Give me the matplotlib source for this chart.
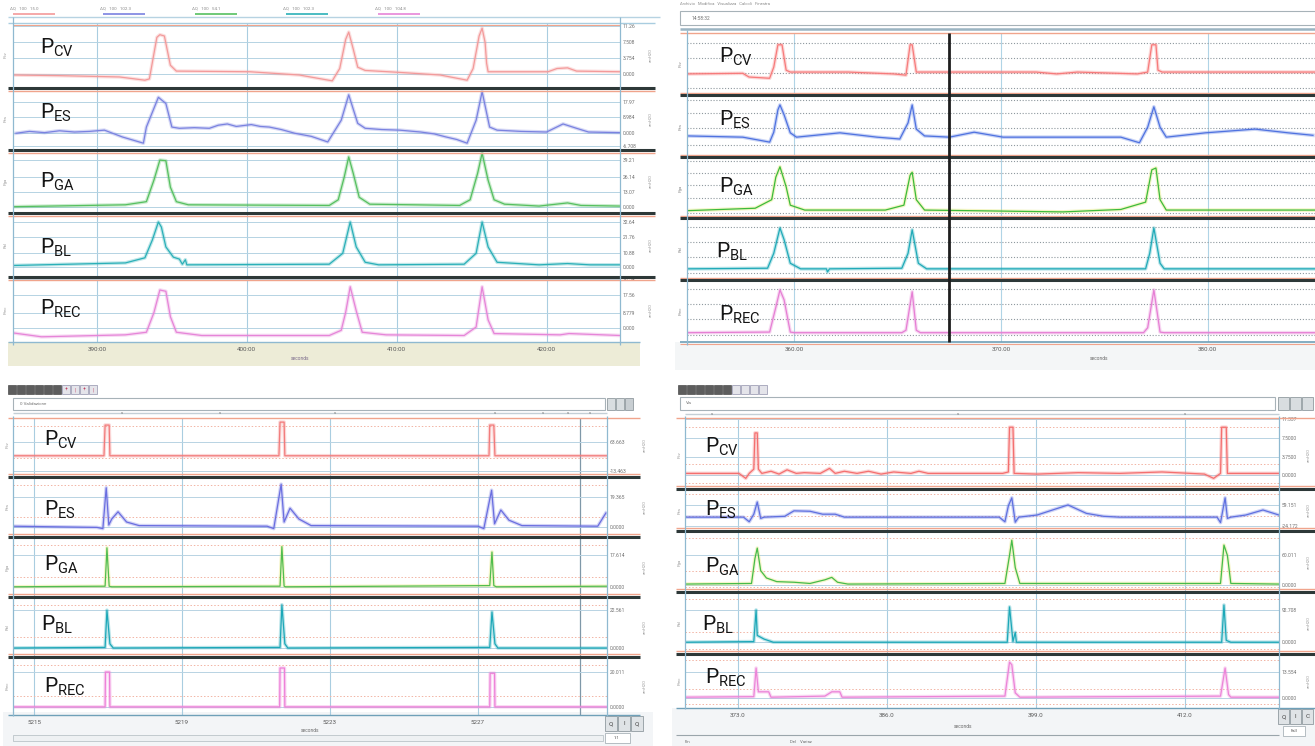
import matplotlib.pyplot as plt
from matplotlib.patches import Rectangle

plt.rcParams['font.family'] = ['Roboto', 'DejaVu Sans']
plt.rcParams['mathtext.fontset'] = 'custom'
plt.rcParams['mathtext.rm'] = 'Roboto'

W, H = 1315, 746
names = ['CV', 'ES', 'GA', 'BL', 'REC']

# ---------------- panel A (top left), time in s, pressures in % of row
a_ticks = [390, 400, 410, 420]
a_ticklabels = ['390:00', '400:00', '410:00', '420:00']
a_cv_t = [384.4, 387.5, 391.5, 393.2, 393.5, 394.0, 394.2, 394.5, 394.9, 395.3, 400.2, 403.5, 405.7, 406.2, 406.6,
          406.8, 407.1, 407.4, 407.9, 410.2, 412.9, 414.7, 415.1, 415.5, 415.7, 415.9, 416.0, 416.1, 420.1, 420.7,
          421.4, 422.0, 424.9]
a_cv_v = [20, 19, 17, 12, 14, 78, 82, 80, 35, 26, 25, 20, 11, 30, 75, 86, 60, 32, 27, 24, 20, 12, 30, 80, 92, 70,
          38, 25, 25, 30, 31, 26, 25]
a_es_t = [384.6, 385.5, 386.5, 387.5, 388.5, 389.5, 390.5, 391.7, 393.1, 393.3, 394.1, 394.6, 395.0, 395.5, 396.5,
          397.5, 398.1, 398.7, 399.3, 400.3, 400.9, 401.5, 402.3, 403.2, 404.3, 405.4, 406.3, 406.8, 407.4, 407.9,
          409.0, 410.2, 411.6, 412.5, 413.3, 414.0, 414.7, 415.3, 415.7, 416.2, 416.7, 418.3, 420.0, 421.1, 422.0,
          422.8, 424.9]
a_es_v = [27, 30, 28, 31, 29, 30, 32, 21, 11, 37, 85, 75, 37, 35, 36, 35, 40, 42, 38, 41, 38, 37, 33, 27, 22, 13,
          48, 89, 43, 35, 33, 32, 29, 26, 21, 17, 11, 48, 94, 37, 32, 30, 29, 42, 35, 29, 28]
a_ga_t = [384.4, 391.9, 393.3, 393.8, 394.2, 394.6, 394.9, 395.3, 396.1, 405.5, 406.1, 406.5, 406.8, 407.1, 407.5,
          408.2, 414.2, 414.9, 415.4, 415.7, 416.1, 416.5, 417.2, 419.5, 421.4, 422.3, 424.9]
a_ga_v = [10, 13, 18, 52, 84, 83, 41, 18, 13, 12, 21, 57, 89, 63, 25, 14, 12, 21, 63, 95, 52, 21, 14, 11, 16, 12, 11]
a_bl_t = [384.4, 391.9, 393.2, 393.7, 394.1, 394.3, 394.6, 395.1, 395.5, 395.7, 395.9, 396.0, 405.5, 406.4, 406.9,
          407.3, 407.9, 408.8, 414.5, 415.3, 415.7, 416.1, 416.7, 419.5, 421.4, 422.9, 424.9]
a_bl_v = [18, 22, 30, 58, 86, 78, 47, 31, 28, 20, 27, 19, 20, 37, 86, 47, 23, 19, 20, 37, 86, 47, 23, 19, 21, 19, 19]
a_rec_t = [384.4, 386.3, 391.9, 393.3, 393.8, 394.2, 394.6, 394.9, 395.3, 397.0, 405.5, 406.3, 406.6, 406.9, 407.3,
           407.7, 409.3, 414.5, 415.3, 415.7, 416.1, 416.5, 420.9, 421.5, 424.9]
a_rec_v = [14, 8, 11, 15, 45, 80, 78, 39, 15, 10, 10, 18, 46, 85, 48, 15, 11, 10, 23, 85, 34, 13, 11, 13, 10]
a_grid = [[21, 46, 71, 95], [6, 27, 53, 77], [10, 33, 57, 84], [16, 38, 63, 86], [22, 45, 72, 97]]
a_ylab = [['0.000', '3.754', '7.508', '11.26'], ['-6.708', '0.000', '8.984', '17.97'],
          ['0.000', '13.07', '26.14', '39.21'], ['0.000', '10.88', '21.76', '32.64'],
          ['0.000', '8.779', '17.56', '26.34']]

# ---------------- panel B (top right)
b_ticks = [360, 370, 380]
b_ticklabels = ['360.00', '370.00', '380.00']
b_cursor = 367.5
b_cv_t = [354.8, 357.5, 357.8, 358.8, 359.0, 359.2, 359.4, 359.6, 359.8, 362.6, 364.8, 365.4, 365.6, 365.7, 365.9,
          367.5, 371.7, 372.7, 373.7, 376.6, 377.1, 377.3, 377.5, 377.6, 377.8, 385.2]
b_cv_v = [34, 35, 29, 27, 45, 81, 81, 40, 37, 37, 34, 32, 81, 81, 37, 37, 37, 34, 37, 34, 37, 81, 81, 40, 37, 37]
b_es_t = [354.8, 357.5, 358.8, 359.0, 359.2, 359.3, 359.5, 359.8, 360.1, 362.2, 364.0, 365.1, 365.5, 365.7, 365.9,
          366.3, 367.5, 368.7, 370.1, 373.7, 375.8, 376.7, 377.1, 377.4, 377.7, 378.0, 379.9, 382.3, 383.9, 385.1]
b_es_v = [34, 32, 24, 40, 76, 84, 68, 39, 32, 39, 32, 29, 55, 84, 45, 34, 32, 40, 32, 32, 32, 23, 48, 81, 48, 32,
          39, 45, 39, 35]
b_ga_t = [354.8, 358.1, 358.9, 359.1, 359.3, 359.6, 359.8, 360.5, 364.4, 365.3, 365.6, 365.7, 365.9, 366.3, 373.0,
          375.8, 377.0, 377.3, 377.5, 377.7, 378.0, 385.2]
b_ga_v = [12, 16, 30, 67, 84, 51, 21, 13, 13, 21, 70, 75, 30, 13, 10, 14, 26, 79, 82, 30, 13, 13]
b_bl_t = [354.8, 358.7, 359.0, 359.3, 359.5, 359.8, 360.3, 361.55, 361.6, 361.7, 365.2, 365.5, 365.7, 366.0, 366.4,
          377.0, 377.2, 377.4, 377.7, 377.9, 385.2]
b_bl_v = [18, 19, 43, 84, 65, 27, 18, 18, 13, 18, 19, 43, 81, 27, 18, 18, 43, 84, 27, 18, 18]
b_rec_t = [354.8, 358.8, 359.1, 359.3, 359.5, 359.8, 360.0, 365.2, 365.4, 365.7, 365.9, 366.1, 376.9, 377.1, 377.4,
           377.7, 377.9, 385.2]
b_rec_v = [15, 16, 56, 84, 68, 16, 15, 15, 19, 81, 19, 15, 15, 23, 84, 16, 15, 15]
b_grid = [[11, 35, 60, 84], [19, 47, 71, 92], [8, 33, 54, 74, 93], [12, 37, 61, 86], [12, 37, 61, 86]]

# ---------------- panel C (bottom left)
c_ticks = [5215, 5219, 5223, 5227]
c_ticklabels = ['5215', '5219', '5223', '5227']
c_mark = 5229.76
c_cv_t = [5214.4, 5216.89, 5216.92, 5217.03, 5217.05, 5221.62, 5221.65, 5221.76, 5221.78, 5227.30, 5227.32,
          5227.43, 5227.46, 5230.5]
c_cv_v = [36, 36, 88, 88, 36, 36, 93, 93, 36, 36, 88, 88, 36, 36]
c_es_t = [5214.4, 5216.7, 5216.86, 5216.95, 5217.02, 5217.1, 5217.27, 5217.5, 5217.84, 5221.3, 5221.48, 5221.68,
          5221.76, 5221.92, 5222.16, 5222.49, 5227.0, 5227.16, 5227.37, 5227.45, 5227.62, 5227.84, 5228.19,
          5230.24, 5230.46]
c_es_v = [18, 16, 14, 82, 20, 30, 42, 25, 19, 18, 14, 88, 25, 48, 30, 19, 18, 14, 78, 22, 45, 28, 19, 18, 40]
c_ga_t = [5214.4, 5216.92, 5216.97, 5217.03, 5217.1, 5221.65, 5221.70, 5221.76, 5221.8, 5227.32, 5227.38,
          5227.43, 5227.5, 5230.5]
c_ga_v = [17, 18, 82, 18, 17, 18, 84, 18, 17, 19, 75, 19, 17, 18]
c_bl_t = [5214.4, 5216.92, 5216.97, 5217.05, 5217.14, 5221.65, 5221.70, 5221.78, 5221.86, 5227.32, 5227.38,
          5227.46, 5227.54, 5230.5]
c_bl_v = [15, 16, 78, 22, 15, 16, 87, 22, 15, 16, 75, 22, 15, 15]
c_rec_t = [5214.4, 5216.92, 5216.93, 5217.04, 5217.05, 5221.64, 5221.65, 5221.77, 5221.78, 5227.32, 5227.33,
           5227.45, 5227.46, 5230.5]
c_rec_v = [14, 14, 74, 74, 14, 14, 81, 81, 14, 14, 72, 72, 14, 14]
c_grid = [[10, 59], [17, 67], [17, 70], [15, 78], [14, 75]]
c_ylab = [['-13.463', '63.663'], ['0.0000', '19.365'], ['0.0000', '17.614'], ['0.0000', '22.561'],
          ['0.0000', '20.011']]

# ---------------- panel D (bottom right)
d_ticks = [373, 386, 399, 412]
d_ticklabels = ['373.0', '386.0', '399.0', '412.0']
d_cv_t = [368.4, 373.1, 373.7, 374.0, 374.4, 374.5, 374.7, 374.8, 375.1, 375.9, 376.6, 377.3, 378.1, 378.8, 380.2,
          381.0, 381.5, 382.3, 383.4, 384.4, 385.5, 386.6, 388.1, 388.8, 389.6, 396.1, 396.6, 396.7, 397.0, 397.1,
          399.1, 402.7, 406.3, 410.0, 413.7, 414.5, 415.1, 415.2, 415.6, 415.7, 420.2]
d_cv_v = [22, 22, 15, 22, 28, 79, 79, 28, 22, 25, 21, 27, 22, 23, 22, 29, 22, 25, 22, 25, 21, 24, 22, 25, 22, 22,
          24, 87, 87, 22, 21, 23, 22, 24, 21, 15, 22, 87, 87, 22, 22]
d_es_t = [368.4, 373.5, 374.0, 374.4, 374.7, 375.0, 375.3, 377.1, 377.9, 379.3, 380.4, 381.5, 382.3, 395.8, 396.3,
          396.6, 396.9, 397.2, 397.5, 399.1, 401.8, 403.4, 404.9, 406.3, 414.8, 415.1, 415.5, 415.7, 416.0, 417.3,
          418.8, 420.2]
d_es_v = [33, 33, 22, 40, 69, 30, 33, 35, 48, 47, 40, 40, 33, 33, 22, 60, 79, 21, 33, 38, 62, 42, 35, 33, 33, 20,
          79, 30, 33, 38, 50, 38]
d_ga_t = [368.4, 374.2, 374.5, 374.7, 375.0, 375.5, 376.4, 377.9, 379.3, 380.6, 381.2, 381.7, 382.6, 396.3, 396.7,
          396.9, 397.2, 397.6, 415.1, 415.4, 415.7, 416.0, 420.2]
d_ga_v = [13, 14, 55, 72, 35, 23, 17, 16, 14, 20, 24, 16, 13, 14, 60, 85, 40, 14, 14, 77, 60, 14, 13]
d_bl_t = [368.4, 374.4, 374.6, 374.7, 375.3, 376.1, 396.5, 396.7, 397.0, 397.2, 397.3, 415.2, 415.4, 415.6, 416.0,
          420.2]
d_bl_v = [19, 20, 71, 30, 24, 19, 19, 76, 20, 35, 19, 19, 79, 22, 19, 19]
d_rec_t = [368.4, 374.4, 374.6, 374.8, 375.7, 375.9, 380.6, 381.2, 381.9, 382.1, 396.3, 396.7, 396.9, 397.2, 397.6,
           415.1, 415.5, 415.8, 416.0, 420.2]
d_rec_v = [20, 21, 74, 30, 30, 20, 22, 30, 30, 20, 22, 85, 80, 28, 20, 22, 74, 25, 20, 20]
d_grid = [[20, 45, 72, 98], [12, 62], [11, 61], [19, 71], [19, 67]]
d_ylab = [['0.0000', '3.7500', '7.5000', '11.337'], ['-24.172', '59.151'], ['0.0000', '60.011'],
          ['0.0000', '92.708'], ['0.0000', '13.554']]

DARK = '#2d3838'
SALMON = '#f0a48c'
BLUE = '#a9cde0'

fig = plt.figure(figsize=(W / 100, H / 100), dpi=100)


def px_axes(x0, y0, x1, y1, z):
    return fig.add_axes([x0 / W, 1 - y1 / H, (x1 - x0) / W, (y1 - y0) / H], zorder=z)


bg = px_axes(0, 0, W, H, 0)
top = px_axes(0, 0, W, H, 10)
for a in (bg, top):
    a.set_xlim(0, W)
    a.set_ylim(H, 0)
    a.axis('off')
top.patch.set_visible(False)


def hline(y, x0, x1, c, lw, ax=top, ls='-'):
    ax.plot([x0, x1], [y, y], color=c, lw=lw, ls=ls, solid_capstyle='butt')


def vline(x, y0, y1, c, lw, ax=top):
    ax.plot([x, x], [y0, y1], color=c, lw=lw, solid_capstyle='butt')


def box(x, y, w, h, fc, ec='none', lw=0.6, ax=bg):
    ax.add_patch(Rectangle((x, y), w, h, facecolor=fc, edgecolor=ec, lw=lw))


def draw_panel(x0, x1, edges, xlim, ticks, ticklabels, series, colors, grids, ylabs, hstyle, vstyle,
               extra_v=(), dots=(), halo=None):
    for i in range(5):
        ax = px_axes(x0, edges[i], x1, edges[i + 1], 3)
        ax.set_facecolor('none')
        ax.set_xlim(xlim)
        ax.set_ylim(0, 100)
        for s in ax.spines.values():
            s.set_visible(False)
        for t in ticks:
            ax.axvline(t, **vstyle)
        for t in extra_v:
            ax.axvline(t, color='#7f98a8', lw=0.9)
        for g in grids[i]:
            ax.axhline(g, **hstyle)
        for g in dots:
            ax.axhline(g, color='#f2b4a4', lw=0.7, ls=(0, (1.5, 2)))
        t, v = series[i]
        hc = halo if (halo and i == 2) else colors[i]
        ax.plot(t, v, color=hc, lw=2.6, alpha=0.3, solid_joinstyle='round')
        ax.plot(t, v, color=colors[i], lw=0.9, solid_joinstyle='round')
        ax.set_xticks(ticks)
        ax.set_xticklabels(ticklabels if i == 4 else [])
        ax.tick_params(axis='x', length=0, labelsize=4.5, labelcolor='#5a5a5a', pad=3.5)
        ax.yaxis.tick_right()
        if ylabs:
            ax.set_yticks(grids[i])
            ax.set_yticklabels(ylabs[i])
        else:
            ax.set_yticks([])
        ax.tick_params(axis='y', length=0, labelsize=3.6, labelcolor='#707070', pad=2)


def p_label(x, y, name):
    top.text(x, y, r'P$_{\mathrm{' + name + '}}$', fontsize=15, color='#151515', ha='left', va='baseline')


# ======== panel A ========
box(8, 342, 632, 24, '#edecd7')
leg_x = [10, 100, 192, 283, 375]
leg_c = ['#f39a9a', '#7a82e0', '#56c060', '#2bb0b8', '#e685d8']
leg_txt = ['AQ   100   15.0', 'AQ   100   102.3', 'AQ   100   54.1', 'AQ   100   102.3', 'AQ   100   104.8']
for x, c, s in zip(leg_x, leg_c, leg_txt):
    top.text(x, 9, s, fontsize=3.2, color='#8a8a8a', va='center')
    hline(13.5, x + 3, x + 45, c, 1.2)
hline(17, 8, 660, '#b7d3e2', 1.0)
edges_a = [23, 88, 150, 213, 277, 342]
draw_panel(13, 620, edges_a, (384.4, 424.9), a_ticks, a_ticklabels,
           [(a_cv_t, a_cv_v), (a_es_t, a_es_v), (a_ga_t, a_ga_v), (a_bl_t, a_bl_v), (a_rec_t, a_rec_v)],
           leg_c, a_grid, a_ylab, dict(color='#b5d3e3', lw=0.7), dict(color=BLUE, lw=0.8))
hline(23, 8, 655, BLUE, 1.0)
hline(25, 13, 620, SALMON, 0.8)
for y in edges_a[1:5]:
    hline(y, 8, 655, DARK, 2.2)
    hline(y + 2.5, 8, 655, SALMON, 1.0)
hline(342, 8, 640, '#8fb9d0', 1.0)
vline(13, 17, 345, '#8fb9d0', 0.9)
vline(620, 17, 345, '#8fb9d0', 0.9)
top.text(300, 358, 'seconds', fontsize=3.5, color='#7a6a8a', ha='center', va='center')
for i, y in enumerate([55, 119, 181, 245, 310]):
    top.text(6, y, 'P' + names[i].lower(), fontsize=3, color='#9a9a9a', rotation=90, ha='center', va='center')
    top.text(651, y, 'cmH2O', fontsize=3, color='#9a9a9a', rotation=90, ha='center', va='center')
for x, y, n in zip([40, 40, 40, 40, 40], [53, 118, 187, 253, 314], names):
    p_label(x, y, n)

# ======== panel B ========
box(675, 342, 640, 28, '#f4f6f7')
top.text(680, 4, 'Archivio   Modifica   Visualizza   Calcoli   Finestra', fontsize=3, color='#8a8a8a', va='center')
box(680, 11, 640, 14, 'white', '#a7b2b8', 0.8)
top.text(692, 18, '14:58:32', fontsize=3.5, color='#707070', va='center')
hline(28.5, 680, 1315, '#9bb4c2', 1.8)
edges_b = [33, 95, 157, 218, 280, 342]
col_b = ['#f77b7b', '#4f72e0', '#3cbb3c', '#20aab8', '#e67fd4']
draw_panel(687, 1315, edges_b, (354.8, 385.2), b_ticks, b_ticklabels,
           [(b_cv_t, b_cv_v), (b_es_t, b_es_v), (b_ga_t, b_ga_v), (b_bl_t, b_bl_v), (b_rec_t, b_rec_v)],
           col_b, b_grid, None, dict(color='#8e989e', lw=0.8, ls=(0, (1, 1.6))), dict(color='#b0d4e6', lw=0.8),
           halo='#d8e040')
hline(33, 680, 1315, SALMON, 1.0)
for y in edges_b[1:5]:
    hline(y - 2.5, 680, 1315, SALMON, 1.0)
    hline(y, 680, 1315, DARK, 2.2)
hline(342, 680, 1315, '#6fa0b8', 1.2)
hline(344, 680, 1315, SALMON, 0.8)
vline(687, 30, 345, '#8fb9d0', 0.9)
vline(949, 33, 342, '#1e1e1e', 2.0)
top.text(1099, 358, 'seconds', fontsize=3.5, color='#6a6a6a', ha='center', va='center')
for i, y in enumerate([64, 126, 188, 249, 311]):
    top.text(681, y, 'P' + names[i].lower(), fontsize=3, color='#8a8a8a', rotation=90, ha='center', va='center')
for x, y, n in zip([719, 719, 719, 716, 719], [62, 125, 192, 257, 320], names):
    p_label(x, y, n)

# ======== panel C ========
box(3, 712, 650, 34, '#f3f5f7')
for k in range(6):
    box(8 + k * 9, 385, 8, 9, '#5d5d5d', '#333333', 0.4)
for k in range(4):
    box(62 + k * 9, 385, 8, 9, '#e4e4ea', '#7a7a9a', 0.4)
    top.text(66 + k * 9, 389.5, '+' if k % 2 == 0 else '|', fontsize=4, color='#c04060', ha='center', va='center')
box(13, 398, 592, 12, 'white', '#a7b2b8', 0.8)
top.text(20, 404, '0 Validazione', fontsize=3.2, color='#707070', va='center')
for k, x in enumerate([607, 616, 625]):
    box(x, 398, 8, 12, '#d8dde0' if k < 2 else '#c8ced2', '#7f8a90', 0.5)
hline(413, 13, 607, '#c4cfd6', 1.0)
for x in [122, 220, 335, 495, 543, 568, 590]:
    top.text(x, 413, 'v', fontsize=3.2, color='#6a6a6a', ha='center', va='center')
edges_c = [418, 477, 537, 597, 657, 715]
col_c = ['#f27c7c', '#6a6ee0', '#50bd4e', '#1da8b8', '#ee80d8']
draw_panel(13, 607, edges_c, (5214.43, 5230.49), c_ticks, c_ticklabels,
           [(c_cv_t, c_cv_v), (c_es_t, c_es_v), (c_ga_t, c_ga_v), (c_bl_t, c_bl_v), (c_rec_t, c_rec_v)],
           col_c, c_grid, c_ylab, dict(color='#b8d3e3', lw=0.7), dict(color=BLUE, lw=0.8),
           extra_v=[c_mark], dots=[33, 86], halo='#dede50')
hline(418, 8, 640, SALMON, 1.0)
for y in edges_c[1:5]:
    hline(y - 3, 8, 640, SALMON, 1.0)
    hline(y, 8, 640, DARK, 2.2)
hline(715, 8, 640, '#6fa0b8', 1.0)
vline(13, 416, 716, '#8fb9d0', 0.9)
vline(607, 416, 716, '#8fb9d0', 0.9)
top.text(310, 730, 'seconds', fontsize=3.5, color='#6a6a6a', ha='center', va='center')
box(13, 735, 590, 6, '#eef1f3', '#b0bac0', 0.5)
for k, (x, s) in enumerate(zip([605, 618, 631], ['Q', 'I', 'Q'])):
    box(x, 716, 12, 15, '#dfe3e6', '#7f8a90', 0.5)
    top.text(x + 6, 723.5, s, fontsize=4.5, color='#444444', ha='center', va='center')
box(605, 733, 25, 10, 'white', '#9aa5ab', 0.5)
top.text(617, 738, '1:1', fontsize=3, color='#555555', ha='center', va='center')
for i, y in enumerate([445, 507, 567, 627, 686]):
    top.text(8, y, 'P' + names[i].lower(), fontsize=3, color='#9a9a9a', rotation=90, ha='center', va='center')
    top.text(645, y, 'cmH2O', fontsize=3, color='#9a9a9a', rotation=90, ha='center', va='center')
for x, y, n in zip([44, 44, 44, 41, 44], [445, 515, 570, 630, 692], names):
    p_label(x, y, n)

# ======== panel D ========
box(672, 708, 643, 38, '#f3f5f7')
for k in range(6):
    box(678 + k * 9, 385, 8, 9, '#5d5d5d', '#333333', 0.4)
for k in range(4):
    box(732 + k * 9, 385, 8, 9, '#e4e4ea', '#7a7a9a', 0.4)
box(680, 397, 595, 13, 'white', '#a7b2b8', 0.8)
top.text(686, 403, 'Vis', fontsize=3.2, color='#707070', va='center')
for k, x in enumerate([1278, 1290, 1302]):
    box(x, 397, 11, 13, '#d8dde0', '#7f8a90', 0.5)
hline(414, 685, 1279, '#c4cfd6', 1.0)
for x in [712, 958, 1185]:
    top.text(x, 414, 'v', fontsize=3.2, color='#6a6a6a', ha='center', va='center')
edges_d = [418, 489, 531, 592, 654, 708]
col_d = ['#f46f6f', '#5f70e0', '#45bb4a', '#1da8b8', '#ec84d8']
draw_panel(685, 1279, edges_d, (368.4, 420.2), d_ticks, d_ticklabels,
           [(d_cv_t, d_cv_v), (d_es_t, d_es_v), (d_ga_t, d_ga_v), (d_bl_t, d_bl_v), (d_rec_t, d_rec_v)],
           col_d, d_grid, d_ylab, dict(color='#b8d3e3', lw=0.7), dict(color=BLUE, lw=0.8),
           dots=[8, 35, 88], halo='#dede50')
hline(418, 676, 1315, SALMON, 1.0)
for y in edges_d[1:5]:
    hline(y - 3, 676, 1315, SALMON, 1.0)
    hline(y, 676, 1315, DARK, 2.2)
hline(708, 676, 1315, '#6fa0b8', 1.0)
vline(685, 416, 709, '#8fb9d0', 0.9)
vline(1279, 416, 709, '#8fb9d0', 0.9)
top.text(963, 727, 'seconds', fontsize=3.5, color='#6a6a6a', ha='center', va='center')
hline(735, 676, 1279, '#9aa5ab', 0.8)
for k, (x, s) in enumerate(zip([1278, 1290, 1302], ['Q', 'I', 'C'])):
    box(x, 709, 11, 15, '#dfe3e6', '#7f8a90', 0.5)
    top.text(x + 5.5, 716.5, s, fontsize=4.5, color='#444444', ha='center', va='center')
box(1283, 726, 22, 10, 'white', '#9aa5ab', 0.5)
top.text(1294, 731, 'Fall', fontsize=3, color='#555555', ha='center', va='center')
top.text(685, 742, 'Fin', fontsize=3, color='#6a6a6a', va='center')
top.text(790, 742, 'Del    Variaz', fontsize=3, color='#6a6a6a', va='center')
for i, y in enumerate([455, 510, 562, 623, 681]):
    top.text(680, y, 'P' + names[i].lower(), fontsize=3, color='#9a9a9a', rotation=90, ha='center', va='center')
    top.text(1309, y, 'cmH2O', fontsize=3, color='#9a9a9a', rotation=90, ha='center', va='center')
for x, y, n in zip([705, 705, 705, 702, 705], [452, 515, 572, 630, 683], names):
    p_label(x, y, n)

fig.savefig('out.png', dpi=100)
